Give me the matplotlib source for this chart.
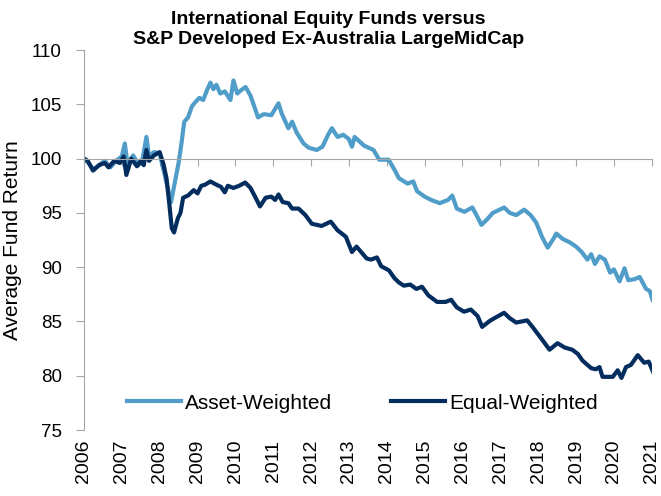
import matplotlib
matplotlib.use("Agg")
import matplotlib.pyplot as plt

plt.rcParams["font.family"] = ["Liberation Sans", "DejaVu Sans"]

# Asset-weighted series (decimal year, index value)
aw_years = [2006.00, 2006.12, 2006.25, 2006.40, 2006.55, 2006.70, 2006.85, 2007.00, 2007.08, 2007.15,
            2007.30, 2007.45, 2007.55, 2007.65, 2007.72, 2007.85, 2008.00, 2008.10, 2008.20, 2008.30,
            2008.40, 2008.50, 2008.58, 2008.65, 2008.75, 2008.85, 2008.94, 2009.05, 2009.15, 2009.25,
            2009.34, 2009.42, 2009.50, 2009.60, 2009.72, 2009.87, 2009.95, 2010.05, 2010.15, 2010.27,
            2010.40, 2010.50, 2010.60, 2010.75, 2010.95, 2011.14, 2011.22, 2011.40, 2011.50, 2011.62,
            2011.80, 2011.94, 2012.15, 2012.30, 2012.45, 2012.55, 2012.70, 2012.85, 2013.00, 2013.08,
            2013.15, 2013.40, 2013.65, 2013.80, 2014.05, 2014.20, 2014.32, 2014.55, 2014.70, 2014.80,
            2015.00, 2015.17, 2015.40, 2015.62, 2015.73, 2015.85, 2016.05, 2016.26, 2016.40, 2016.50,
            2016.65, 2016.80, 2017.10, 2017.25, 2017.42, 2017.63, 2017.80, 2017.95, 2018.10, 2018.25,
            2018.40, 2018.48, 2018.65, 2018.83, 2019.00, 2019.15, 2019.30, 2019.40, 2019.50, 2019.62,
            2019.76, 2019.90, 2020.00, 2020.15, 2020.28, 2020.38, 2020.55, 2020.68, 2020.85, 2020.95,
            2021.02]
aw_values = [100.0, 99.6, 99.0, 99.4, 99.8, 99.2, 99.8, 100.2, 101.4, 99.5,
             100.3, 99.4, 100.0, 102.0, 100.2, 100.6, 100.5, 99.0, 97.5, 96.0,
             97.8, 99.6, 101.5, 103.4, 103.8, 104.8, 105.2, 105.6, 105.4, 106.3,
             107.0, 106.4, 106.8, 106.0, 106.2, 105.4, 107.2, 106.0, 106.3, 106.6,
             105.8, 104.8, 103.8, 104.1, 104.0, 105.1, 104.2, 102.8, 103.4, 102.4,
             101.4, 101.0, 100.8, 101.1, 102.2, 102.8, 102.0, 102.2, 101.8, 101.1,
             102.0, 101.2, 100.8, 99.9, 99.9, 99.0, 98.2, 97.7, 97.9, 97.0,
             96.5, 96.2, 95.9, 96.2, 96.6, 95.4, 95.1, 95.5, 94.6, 93.9,
             94.4, 95.0, 95.5, 95.0, 94.8, 95.3, 94.8, 94.1, 92.8, 91.8,
             92.6, 93.1, 92.6, 92.3, 91.9, 91.4, 90.7, 91.2, 90.3, 91.0,
             90.7, 89.5, 89.8, 88.7, 89.9, 88.8, 88.9, 89.1, 88.0, 87.8,
             87.0]

# Equal-weighted series
ew_years = [2006.00, 2006.10, 2006.24, 2006.40, 2006.55, 2006.65, 2006.80, 2006.95, 2007.05, 2007.12,
            2007.25, 2007.40, 2007.50, 2007.58, 2007.65, 2007.72, 2007.85, 2008.00, 2008.10, 2008.18,
            2008.25, 2008.32, 2008.38, 2008.48, 2008.55, 2008.62, 2008.75, 2008.90, 2009.00, 2009.10,
            2009.20, 2009.34, 2009.50, 2009.62, 2009.72, 2009.80, 2009.95, 2010.10, 2010.26, 2010.40,
            2010.55, 2010.65, 2010.80, 2010.95, 2011.05, 2011.14, 2011.25, 2011.40, 2011.50, 2011.67,
            2011.85, 2012.02, 2012.28, 2012.52, 2012.70, 2012.92, 2013.08, 2013.20, 2013.47, 2013.58,
            2013.74, 2013.85, 2014.06, 2014.20, 2014.32, 2014.45, 2014.62, 2014.78, 2014.93, 2015.10,
            2015.33, 2015.55, 2015.70, 2015.85, 2016.04, 2016.22, 2016.40, 2016.52, 2016.70, 2016.84,
            2017.10, 2017.25, 2017.42, 2017.71, 2017.85, 2018.11, 2018.30, 2018.51, 2018.70, 2018.90,
            2019.05, 2019.17, 2019.40, 2019.52, 2019.62, 2019.70, 2019.97, 2020.10, 2020.20, 2020.32,
            2020.45, 2020.63, 2020.80, 2020.92, 2021.03]
ew_values = [100.0, 99.8, 98.9, 99.4, 99.6, 99.2, 99.8, 99.6, 100.2, 98.5,
             100.0, 99.3, 99.8, 99.4, 100.8, 99.8, 100.3, 100.6, 99.5, 98.2,
             96.0, 93.6, 93.2, 94.5, 95.0, 96.4, 96.6, 97.1, 96.8, 97.5,
             97.6, 97.9, 97.6, 97.4, 96.9, 97.5, 97.3, 97.5, 97.8, 97.3,
             96.3, 95.6, 96.4, 96.5, 96.2, 96.7, 96.0, 95.9, 95.4, 95.4,
             94.8, 94.0, 93.8, 94.2, 93.4, 92.8, 91.4, 91.9, 90.8, 90.7,
             90.9, 90.1, 89.7, 89.0, 88.6, 88.3, 88.4, 88.0, 88.2, 87.4,
             86.8, 86.8, 87.0, 86.3, 85.9, 86.1, 85.5, 84.5, 85.0, 85.3,
             85.8, 85.3, 84.9, 85.1, 84.5, 83.3, 82.4, 83.0, 82.6, 82.4,
             82.0, 81.4, 80.7, 80.6, 80.8, 79.9, 79.9, 80.5, 79.8, 80.8,
             81.0, 81.9, 81.2, 81.3, 80.4]

year_ticks = list(range(2006, 2022))
y_ticks = [75, 80, 85, 90, 95, 100, 105, 110]

LIGHT = "#4f9dc8"
DARK = "#032d5e"
GREY = "#a6a6a6"

fig = plt.figure(figsize=(6.61, 4.96), dpi=100)
ax = fig.add_axes([0.127, 0.133, 0.859, 0.766])

ax.plot(aw_years, aw_values, color=LIGHT, lw=3.0, label="Asset-Weighted", solid_joinstyle="round")
ax.plot(ew_years, ew_values, color=DARK, lw=3.0, label="Equal-Weighted", solid_joinstyle="round")

ax.set_xlim(2006, 2021)
ax.set_ylim(75, 110)
ax.set_yticks(y_ticks)
ax.set_xticks(year_ticks)

# horizontal axis crosses at 100, labels stay at the bottom
ax.spines["bottom"].set_position(("data", 100))
ax.spines["bottom"].set_color(GREY)
ax.spines["left"].set_color(GREY)
ax.spines["top"].set_visible(False)
ax.spines["right"].set_visible(False)
ax.tick_params(axis="x", direction="out", length=5, color=GREY, labelbottom=False)
ax.tick_params(axis="y", direction="out", length=6, color=GREY, labelsize=13.5, pad=10)

sec = ax.secondary_xaxis(0)
sec.set_xticks(year_ticks)
sec.set_xticklabels([str(y) for y in year_ticks], rotation=90, fontsize=14)
sec.tick_params(length=0, pad=7)
sec.spines["bottom"].set_visible(False)

ax.set_ylabel("Average Fund Return", fontsize=15, labelpad=6)

fig.suptitle("International Equity Funds versus\nS&P Developed Ex-Australia LargeMidCap",
             x=0.497, y=0.978, fontsize=14, fontweight="bold", linespacing=1.2)

ax.legend(loc="center", bbox_to_anchor=(0.49, 0.071), ncol=2, frameon=False,
          fontsize=15, handlelength=2.6, handletextpad=0.2, columnspacing=2.8)

fig.savefig("out.png", dpi=100)
